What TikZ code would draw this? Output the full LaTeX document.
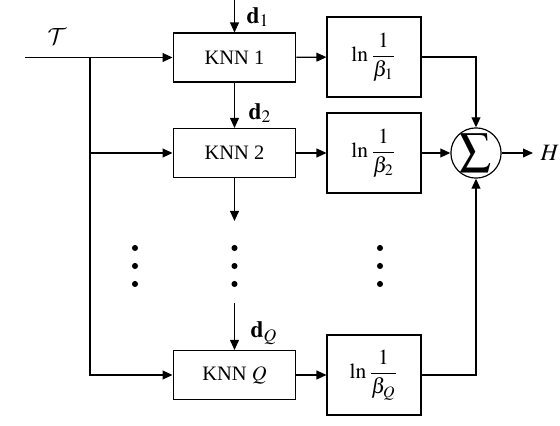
\documentclass[tikz,border=0pt]{standalone}
\usepackage{amsmath}
\usepackage{mathptmx}
\usepackage{fontspec}
\setmainfont{Liberation Serif}
\DeclareMathAlphabet{\mathcal}{OMS}{cmsy}{m}{n}
\usepackage{tikz}
\usetikzlibrary{arrows.meta,positioning}

\tikzset{
	knnbox/.style={draw, line width=0.6pt, minimum width=2.21cm, minimum height=0.88cm, inner sep=0pt, font=\fontsize{10.5}{12}\selectfont},
	lnbox/.style={draw, line width=0.6pt, minimum width=1.69cm, minimum height=1.44cm, inner sep=0pt},
	sumnode/.style={draw, circle, line width=0.6pt, minimum size=0.88cm, inner sep=0pt},
	wire/.style={line width=0.6pt},
	arr/.style={line width=0.6pt, -{Triangle[length=1.8mm,width=1.6mm]}},
	dotmark/.style={fill=black},
	vlabel/.style={font=\large},
}

\begin{document}
\begin{tikzpicture}[x=0.018cm, y=-0.018cm]
	\useasboundingbox (0,0) rectangle (560,426);
	% KNN blocks
	\node[knnbox] (knn1) at (234.5,57.5) {KNN 1};
	\node[knnbox] (knn2) at (234.5,153) {KNN 2};
	\node[knnbox] (knnq) at (234.5,375) {KNN $Q$};
	% weight blocks
	\node[lnbox] (ln1) at (374,57) {\scalebox{1.1}{$\ln\dfrac{1}{\beta_1}$}};
	\node[lnbox] (ln2) at (374,153) {\scalebox{1.1}{$\ln\dfrac{1}{\beta_2}$}};
	\node[lnbox] (lnq) at (374,375) {\scalebox{1.1}{$\ln\dfrac{1}{\beta_Q}$}};
	% summation
	\node[sumnode] (sum) at (476,153) {\scalebox{1.6}{$\displaystyle\sum$}};
	% free ends
	\coordinate (in) at (25,57.5);
	\coordinate (split) at (90,57.5);
	\coordinate (tap2) at (90,153);
	\coordinate (d1top) at (234.5,0);
	\coordinate (knn2out) at (234.5,221);
	\coordinate (dqtop) at (234.5,303);
	\coordinate (out) at (533,153);
	% input lines
	\draw[wire] (in) -- (split);
	\draw[arr] (split) -- (knn1);
	\draw[arr] (tap2) -- (knn2);
	\draw[arr] (split) |- (knnq);
	% chain of KNN blocks
	\draw[arr] (d1top) -- (knn1);
	\draw[arr] (knn1) -- (knn2);
	\draw[arr] (knn2) -- (knn2out);
	\draw[arr] (dqtop) -- (knnq);
	% to the weights
	\draw[arr] (knn1) -- (ln1);
	\draw[arr] (knn2) -- (ln2);
	\draw[arr] (knnq) -- (lnq);
	% into the sum
	\draw[arr] (ln1.east) -| (sum.north);
	\draw[arr] (ln2) -- (sum);
	\draw[arr] (lnq.east) -| (sum.south);
	\draw[arr] (sum) -- (out);
	% dots
	\foreach \x in {135,234.5,380}
		\foreach \y in {248,266,284}
			\fill[dotmark] (\x,\y) circle (0.055cm);
	% labels
	\node[vlabel] (tlabel) at (57,37) {$\mathcal{T}$};
	\node[vlabel] (d1label) at (258,17) {$\mathbf{d}_1$};
	\node[vlabel] (d2label) at (260,113) {$\mathbf{d}_2$};
	\node[vlabel] (dqlabel) at (264,333) {$\mathbf{d}_Q$};
	\node[vlabel] (hlabel) at (550,153) {$H$};
\end{tikzpicture}
\end{document}
